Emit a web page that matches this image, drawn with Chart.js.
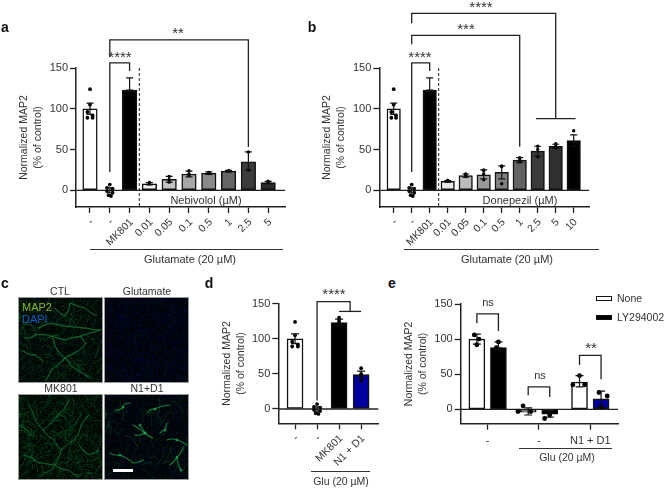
<!DOCTYPE html>
<html>
<head>
<meta charset="utf-8">
<script src="https://cdn.jsdelivr.net/npm/chart.js@4"></script>
<style>
  html, body { margin: 0; padding: 0; background: #fff; }
  #page { position: relative; width: 668px; height: 489px; overflow: hidden; font-family: "Liberation Sans", Arial, sans-serif; color: #333; }
  #page canvas { position: absolute; }
  .txt { position: absolute; white-space: nowrap; transform: translate(-50%, -50%); font-size: 10.5px; line-height: 1; }
  .rule { position: absolute; height: 1px; background: #333; }
</style>
</head>
<body>
<div id="page"></div>
<script>
/* shared control groups, same cells in a, b and d */
const ctrlDotsX = [0, 0, -0.13, 0.13, -0.13, 0.13, 0, -0.14, 0.14, -0.14, 0.14, -0.06, 0.06];
const ctrlDotsY = [124, 105, 96, 92, 89, 89, 7, 3, 2, -1, -3, -6, -7];
const ctrlDotsI = [0, 0, 0, 0, 0, 0, 1, 1, 1, 1, 1, 1, 1];
const yTicks = [0, 50, 100, 150];

/* panel a */
const aLabels = ['-', '-', 'MK801', '0.01', '0.05', '0.1', '0.5', '1', '2.5', '5'];
const aValues = [100, 0, 123, 8, 13.5, 20, 21, 23.5, 35, 9.5];
const aHigh = [107, 3, 138, 9.5, 17, 23.5, 22.5, 24.5, 47, 11];
const aLow = [93, -3, 123, 6.5, 10, 16.5, 19.5, 22.5, 25, 8];
const aColors = ['#fff', '#fff', '#000', '#eeeeee', '#c4c4c4', '#a6a6a6', '#8a8a8a', '#666', '#3c3c3c', '#2a2a2a'];
const aDotsX = [3, 3, 3, 4, 4, 4, 5, 5, 5, 6, 6, 7, 7, 8, 8, 9, 9];
const aDotsY = [8, 9, 9.5, 10, 13, 17, 18, 20, 24, 20.5, 22, 23.5, 24, 25, 47, 9.5, 11];
const aTopX = [1, 1, 8, 8];
const aTopY = [163.5, 184.4, 184.4, 53];
const aNearX = [1, 1, 2, 2];
const aNearY = [22.5, 156.2, 156.2, 146.4];

/* panel b */
const bLabels = ['-', '-', 'MK801', '0.01', '0.05', '0.1', '0.5', '1', '2.5', '5', '10'];
const bValues = [100, 0, 123, 11, 18, 19, 22, 37, 48, 54, 61];
const bHigh = [107, 3, 138, 12, 20, 25, 30, 40, 54, 56.5, 68];
const bLow = [93, -3, 123, 10, 16, 14, 14, 34, 42, 51.5, 54];
const bColors = ['#fff', '#fff', '#000', '#e8e8e8', '#bbbbbb', '#9a9a9a', '#808080', '#636363', '#3a3a3a', '#303030', '#000'];
const bDotsX = [3, 3, 3, 4, 4, 4, 5, 5, 5, 5, 6, 6, 6, 7, 7, 7, 8, 8, 8, 9, 9, 9, 10];
const bDotsY = [11, 12, 12, 17, 19, 20, 13, 20, 24, 25, 8, 29, 30, 35, 37, 40, 41, 50, 54, 52, 54, 57, 73];
const bFarX = [1, 1, 9, 9];
const bFarY = [205, 217, 217, 88];
const bFarCapX = [7.9, 10.1];
const bFarCapY = [88, 88];
const bMidX = [1, 1, 7, 7];
const bMidY = [179, 190, 190, 53.5];
const bNearX = [1, 1, 2, 2];
const bNearY = [22.5, 156.2, 156.2, 146.4];

/* panel d */
const dLabels = ['-', '-', 'MK801', 'N1 + D1'];
const dValues = [100, 0, 123, 49];
const dHigh = [107, 3, 128, 54];
const dLow = [93, -3, 119, 44];
const dColors = ['#fff', '#fff', '#000', '#0000a0'];
const dDotsX = [2, 2, 2, 2, 3, 3, 3, 3];
const dDotsY = [122, 124, 127, 130, 40, 47, 50, 58];
const dTopX = [1, 1, 2.5, 2.5];
const dTopY = [12, 153, 153, 139];
const dCapX = [2, 3];
const dCapY = [139, 139];

/* panel e */
const eLabels = ['-', '-', 'N1 + D1'];
const eNone = [100, -4, 39];
const eNoneHigh = [107, 2, 48];
const eNoneLow = [93, -8, 32];
const eDrug = [88, -7, 15];
const eDrugHigh = [96, -3, 26];
const eDrugLow = [85, -11, 4];
const eDrugColors = ['#000', '#000', '#0000a0'];
const eNoneDotsX = [-0.05, 0.04, 0, 0.9, 1.05, 0.8, 2, 1.87, 2.1];
const eNoneDotsY = [106, 100, 92, 5, -3, -3, 48, 35, 35];
const eDrugDotsX = [0, -0.04, 0.04, 0.9, 1.1, 1, 1.96, 2.12, 2];
const eDrugDotsY = [96, 88, 85, -13, -3.5, -8, 24, 19, 4];
const eBrackets = [
    { x: [-0.21, -0.21, 0.21, 0.21], y: [122.5, 136, 136, 111.5] },
    { x: [0.79, 0.79, 1.21, 1.21], y: [20, 32, 32, 17.5] },
    { x: [1.79, 1.79, 2.21, 2.21], y: [63, 77, 77, 43] }
];

const page = document.getElementById('page');

function addText(text, x, y, size, extra) {
    const el = document.createElement('div');
    el.className = 'txt';
    el.textContent = text;
    el.style.left = x + 'px';
    el.style.top = y + 'px';
    if (size) el.style.fontSize = size + 'px';
    if (extra) Object.assign(el.style, extra);
    page.appendChild(el);
    return el;
}

function addRule(x1, x2, y) {
    const el = document.createElement('div');
    el.className = 'rule';
    el.style.left = x1 + 'px';
    el.style.top = y + 'px';
    el.style.width = (x2 - x1) + 'px';
    page.appendChild(el);
}

function lineSet(xs, ys, dash) {
    return {
        type: 'line',
        data: xs.map((x, i) => ({ x: x, y: ys[i] })),
        borderColor: '#222',
        borderWidth: dash ? 1 : 1.3,
        borderDash: dash || [],
        pointRadius: 0,
        tension: 0,
        clip: false,
        order: 1
    };
}

function dotSet(xs, ys, r) {
    return {
        type: 'scatter',
        data: xs.map((x, i) => ({ x: x, y: ys[i] })),
        backgroundColor: '#000',
        borderWidth: 0,
        pointRadius: r,
        clip: false,
        order: 0
    };
}

function barSet(xs, ys, colors, width) {
    return {
        type: 'bar',
        data: xs.map((x, i) => ({ x: x, y: ys[i] })),
        backgroundColor: colors,
        borderColor: '#111',
        borderWidth: 1.5,
        borderSkipped: false,
        barThickness: width,
        grouped: false,
        clip: false,
        order: 3
    };
}

/* caps and stems */
function errorPlugin(xs, high, low, cap) {
    return {
        id: 'errorBars',
        afterDatasetsDraw(chart) {
            const c = chart.ctx, sx = chart.scales.x, sy = chart.scales.y;
            c.save();
            c.strokeStyle = '#111';
            c.lineWidth = 1.2;
            xs.forEach((x, i) => {
                const px = sx.getPixelForValue(x);
                const t = sy.getPixelForValue(high[i]);
                const b = sy.getPixelForValue(low[i]);
                c.beginPath();
                c.moveTo(px, t); c.lineTo(px, b);
                c.moveTo(px - cap, t); c.lineTo(px + cap, t);
                c.moveTo(px - cap, b); c.lineTo(px + cap, b);
                c.stroke();
            });
            c.restore();
        }
    };
}

function makeChart(o) {
    const canvas = document.createElement('canvas');
    canvas.width = o.box[2];
    canvas.height = o.box[3];
    canvas.style.left = o.box[0] + 'px';
    canvas.style.top = o.box[1] + 'px';
    page.appendChild(canvas);
    const yWidth = o.area[0] - o.box[0];
    const xHeight = o.box[1] + o.box[3] - o.area[3];
    const family = '"Liberation Sans", Arial, sans-serif';
    return new Chart(canvas, {
        type: 'bar',
        data: { datasets: o.sets.concat([lineSet([o.xMin, o.xMax], [0, 0])]) },
        options: {
            responsive: false,
            animation: false,
            events: [],
            layout: { padding: { left: 0, bottom: 0, top: o.area[1] - o.box[1], right: o.box[0] + o.box[2] - o.area[2] } },
            plugins: { legend: { display: false }, tooltip: { enabled: false } },
            scales: {
                x: {
                    type: 'linear',
                    offset: false,
                    min: o.xMin,
                    max: o.xMax,
                    afterBuildTicks: s => { s.ticks = o.labels.map((l, i) => ({ value: i })); },
                    afterFit: s => { s.height = xHeight; },
                    grid: { offset: false, drawOnChartArea: false, drawTicks: true, tickLength: 6, tickWidth: 1.3, color: '#222' },
                    border: { display: true, color: '#222', width: 1.5 },
                    ticks: {
                        autoSkip: false,
                        minRotation: o.rotation,
                        maxRotation: o.rotation,
                        padding: o.rotation ? 3 : 5,
                        labelOffset: o.rotation ? 2 : 0,
                        color: '#333',
                        font: { family: family, size: o.rotation ? 10.5 : 11 },
                        callback: v => o.labels[v]
                    }
                },
                y: {
                    type: 'linear',
                    min: o.yMin,
                    max: 150,
                    afterBuildTicks: s => { s.ticks = yTicks.map(v => ({ value: v })); },
                    afterFit: s => { s.width = yWidth; },
                    grid: { drawOnChartArea: false, drawTicks: true, tickLength: 6, tickWidth: 1.3, color: '#222' },
                    border: { display: true, color: '#222', width: 1.5 },
                    ticks: { padding: 2, color: '#333', font: { family: family, size: 11 } },
                    title: {
                        display: true,
                        text: ['Normalized MAP2', '(% of control)'],
                        color: '#333',
                        padding: { top: o.titlePad, bottom: 0 },
                        font: { family: family, size: 10.5, lineHeight: 1.4 }
                    }
                }
            }
        },
        plugins: o.err
    });
}

function range(n) {
    return Array.from({ length: n }, (v, i) => i);
}

function controlDots() {
    return ctrlDotsX.map((x, i) => x + ctrlDotsI[i]);
}

/* a */
makeChart({
    box: [0, 0, 300, 262], area: [76, 68, 285, 207],
    yMin: -20.5, xMin: -0.707, xMax: 9.85, rotation: 45, labels: aLabels, titlePad: 16.5,
    sets: [
        barSet(range(aValues.length), aValues, aColors, 14.5),
        dotSet(controlDots(), ctrlDotsY, 1.9),
        dotSet(aDotsX, aDotsY, 1.7),
        lineSet(aTopX, aTopY),
        lineSet(aNearX, aNearY),
        lineSet([2.49, 2.49], [150, -20.5], [3, 2])
    ],
    err: [errorPlugin(range(aValues.length), aHigh, aLow, 3.5)]
});

/* b */
makeChart({
    box: [315, 0, 285, 262], area: [379.3, 68, 589, 207],
    yMin: -20.5, xMin: -0.8, xMax: 10.85, rotation: 45, labels: bLabels, titlePad: 4.5,
    sets: [
        barSet(range(bValues.length), bValues, bColors, 13.5),
        dotSet(controlDots(), ctrlDotsY, 1.9),
        dotSet(bDotsX, bDotsY, 1.7),
        lineSet(bFarX, bFarY),
        lineSet(bFarCapX, bFarCapY),
        lineSet(bMidX, bMidY),
        lineSet(bNearX, bNearY),
        lineSet([2.5, 2.5], [150, -20.5], [3, 2])
    ],
    err: [errorPlugin(range(bValues.length), bHigh, bLow, 3.5)]
});

/* d */
makeChart({
    box: [210, 285, 175, 204], area: [278.3, 303.7, 378.3, 423.3],
    yMin: -20.4, xMin: -0.76, xMax: 3.78, rotation: 45, labels: dLabels, titlePad: 9.5,
    sets: [
        barSet(range(dValues.length), dValues, dColors, 16),
        dotSet(controlDots(), ctrlDotsY, 1.9),
        dotSet(dDotsX, dDotsY, 1.9),
        lineSet(dTopX, dTopY),
        lineSet(dCapX, dCapY)
    ],
    err: [errorPlugin(range(dValues.length), dHigh, dLow, 4)]
});

/* e */
const eNoneX = range(3).map(i => i - 0.21);
const eDrugX = range(3).map(i => i + 0.21);
makeChart({
    box: [398, 285, 224, 204], area: [460.7, 304, 620, 423.7],
    yMin: -20.4, xMin: -0.525, xMax: 2.54, rotation: 0, labels: eLabels, titlePad: 3.5,
    sets: [
        barSet(eNoneX, eNone, '#fff', 16),
        barSet(eDrugX, eDrug, eDrugColors, 16),
        dotSet(eNoneDotsX.map(x => x - 0.21), eNoneDotsY, 2.4),
        dotSet(eDrugDotsX.map(x => x + 0.21), eDrugDotsY, 2.4)
    ].concat(eBrackets.map(b => lineSet(b.x, b.y))),
    err: [errorPlugin(eNoneX, eNoneHigh, eNoneLow, 4), errorPlugin(eDrugX, eDrugHigh, eDrugLow, 4)]
});

/* micrographs of panel c */
const ctlFibres = [
    [[6, 40], [16, 37], [32, 38], [46, 42], [62, 38], [71, 35], [81, 32]],
    [[62, 38], [67, 45], [59, 53], [46, 60], [39, 53], [34, 40]],
    [[19, 30], [32, 25], [46, 28], [66, 30], [81, 32]],
    [[46, 60], [52, 68], [71, 80]],
    [[36, 10], [46, 18], [51, 5], [66, 10], [76, 17]],
    [[26, 83], [32, 72], [46, 60]],
    [[4, 53], [16, 57], [24, 63]]
];
const mkFibres = [
    [[10, 10], [16, 25], [24, 35], [30, 30], [45, 15], [50, 5]],
    [[24, 35], [35, 45], [42, 55], [36, 70], [25, 78]],
    [[42, 55], [55, 45], [62, 30], [70, 20]],
    [[5, 60], [20, 68], [36, 70], [50, 75], [60, 82]],
    [[60, 50], [70, 60], [80, 55]],
    [[0, 30], [12, 40]]
];
const n1Fibres = [
    [[10, 15], [18, 12], [25, 8]], [[30, 40], [40, 38], [48, 43]], [[40, 38], [35, 30]],
    [[55, 38], [60, 35], [62, 28]], [[5, 58], [15, 60], [28, 68], [38, 65]],
    [[65, 70], [72, 62], [78, 52]], [[72, 62], [76, 75]], [[62, 45], [72, 45], [82, 50]],
    [[42, 18], [50, 14], [65, 10]], [[28, 30], [40, 38]]
];

function hash(n) {
    const s = Math.sin(n * 12.9898) * 43758.5453;
    return s - Math.floor(s);
}

function traceFibres(c, fibres) {
    fibres.forEach((f, n) => {
        c.beginPath();
        f.forEach((p, i) => {
            if (!i) { c.moveTo(p[0], p[1]); return; }
            const q = f[i - 1];
            c.quadraticCurveTo((p[0] + q[0]) / 2 + (hash(n * 7 + i) - 0.5) * 5, (p[1] + q[1]) / 2 + (hash(n * 9 + i) - 0.5) * 5, p[0], p[1]);
        });
        c.stroke();
    });
}

function micrograph(x, y, title, tx, fibres, opt) {
    const w = 83, h = 84;
    const cv = document.createElement('canvas');
    cv.width = w;
    cv.height = h;
    cv.style.left = x + 'px';
    cv.style.top = y + 'px';
    cv.style.outline = '1px solid #9a9a9a';
    page.appendChild(cv);
    const c = cv.getContext('2d');
    const img = c.createImageData(w, h);
    for (let i = 0; i < w * h; i++) {
        const speck = hash(i * 3 + 1 + opt.seed);
        img.data[i * 4] = 0;
        img.data[i * 4 + 1] = opt.green * hash(i + opt.seed) * speck;
        img.data[i * 4 + 2] = opt.blue * hash(i * 2 + 7 + opt.seed) * speck;
        img.data[i * 4 + 3] = 255;
    }
    c.putImageData(img, 0, 0);
    c.filter = 'blur(0.7px)';
    c.drawImage(cv, 0, 0);
    c.lineCap = 'round';
    for (let i = 0; i < opt.fine; i++) {
        const px = hash(i + opt.seed + 0.1) * w, py = hash(i + opt.seed + 0.2) * h;
        const a = hash(i + opt.seed + 0.3) * 6.28, l = 6 + hash(i + opt.seed + 0.4) * 12;
        c.strokeStyle = 'rgba(24,130,55,' + (0.08 + hash(i + opt.seed + 0.5) * opt.fineAlpha) + ')';
        c.lineWidth = 0.8;
        c.beginPath();
        c.moveTo(px, py);
        c.quadraticCurveTo(px + Math.cos(a) * l * 0.5 + 3, py + Math.sin(a) * l * 0.5 - 3, px + Math.cos(a) * l, py + Math.sin(a) * l);
        c.stroke();
    }
    /* soft halo first, then the fibre */
    c.strokeStyle = 'rgba(24,130,60,0.14)';
    c.lineWidth = opt.width + 1;
    traceFibres(c, fibres);
    c.strokeStyle = opt.color;
    c.lineWidth = opt.width;
    traceFibres(c, fibres);
    if (opt.soma) {
        c.fillStyle = 'rgba(40,175,85,0.6)';
        fibres.forEach(f => {
            c.beginPath();
            c.arc(f[1][0], f[1][1], 1.5, 0, 6.3);
            c.fill();
        });
    }
    c.filter = 'none';
    addText(title, tx, y - 7, 10.5);
}

micrograph(19, 298, 'CTL', 60, ctlFibres, { seed: 1, green: 45, blue: 30, fine: 210, fineAlpha: 0.3, color: 'rgba(36,160,75,0.55)', width: 1 });
micrograph(105, 298, 'Glutamate', 147, [], { seed: 40, green: 18, blue: 70, fine: 5, fineAlpha: 0.1, color: '#000', width: 1 });
micrograph(19, 395, 'MK801', 61, mkFibres, { seed: 90, green: 50, blue: 20, fine: 260, fineAlpha: 0.35, color: 'rgba(32,150,70,0.5)', width: 1 });
micrograph(105, 395, 'N1+D1', 147, n1Fibres, { seed: 130, green: 25, blue: 50, fine: 60, fineAlpha: 0.35, color: 'rgba(36,170,78,0.6)', width: 1.1, soma: true });

addText('MAP2', 22, 307, 11, { transform: 'translate(0,-50%)', color: '#8cb428' });
addText('DAPI', 22, 319, 11, { transform: 'translate(0,-50%)', color: '#0c5cc0' });
const scaleBar = document.createElement('div');
Object.assign(scaleBar.style, { position: 'absolute', left: '113px', top: '469px', width: '20px', height: '3px', background: '#fff' });
page.appendChild(scaleBar);

/* panel letters */
addText('a', 5, 27, 14, { fontWeight: 'bold', color: '#111' });
addText('b', 312, 27, 14, { fontWeight: 'bold', color: '#111' });
addText('c', 5, 283, 14, { fontWeight: 'bold', color: '#111' });
addText('d', 209, 283, 14, { fontWeight: 'bold', color: '#111' });
addText('e', 392, 283, 14, { fontWeight: 'bold', color: '#111' });

/* stars and notes */
addText('**', 178, 32, 15);
addText('****', 120, 56, 15);
addText('****', 481, 6, 15);
addText('***', 466, 28, 15);
addText('****', 420, 56, 15);
addText('****', 334, 293, 15);
addText('ns', 488, 302, 11);
addText('ns', 540, 375, 11);
addText('**', 591, 347, 15);

addText('Nebivolol (\u00b5M)', 206, 199.5, 11);
addText('Donepezil (\u00b5M)', 520, 199.5, 11);
addText('Glutamate (20 \u00b5M)', 190, 259, 11);
addText('Glutamate (20 \u00b5M)', 507, 259, 11);
addText('Glu (20 \u00b5M)', 341, 481, 10.5);
addText('Glu (20 \u00b5M)', 567, 457, 10.5);
addRule(90, 283, 249);
addRule(404, 599, 249);
addRule(311, 370, 471);
addRule(519, 612, 448);

/* legend of e */
const swatches = [['None', '#fff', 298], ['LY294002', '#000', 317]];
swatches.forEach(s => {
    const box = document.createElement('div');
    Object.assign(box.style, { position: 'absolute', left: '596px', top: (s[2] - 2.5) + 'px', width: '14px', height: '3px', background: s[1], border: '1px solid #111' });
    page.appendChild(box);
    addText(s[0], 617, s[2], 10.5, { transform: 'translate(0,-50%)' });
});
</script>
</body>
</html>
